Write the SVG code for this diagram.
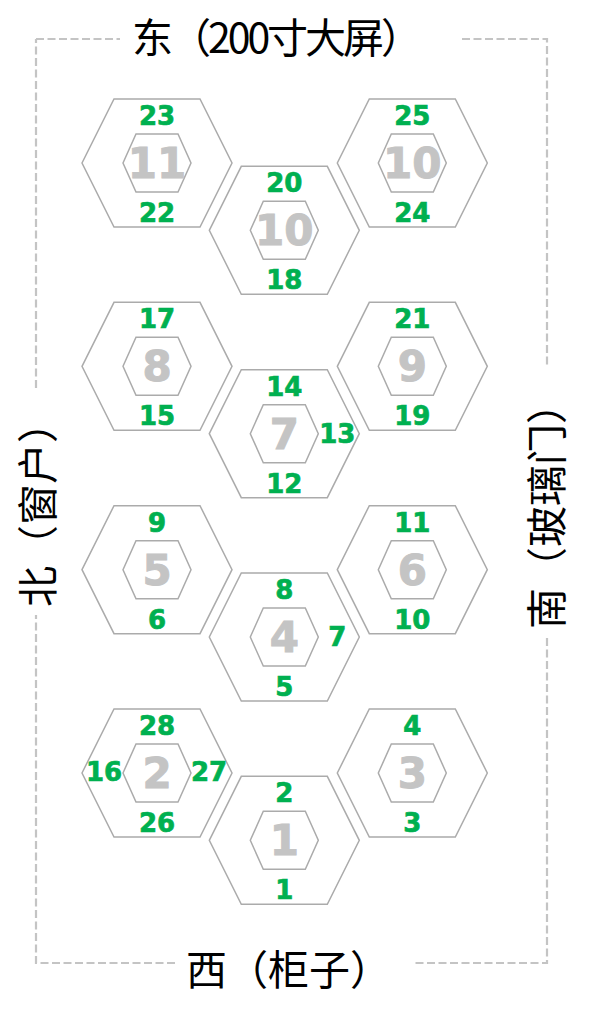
<svg xmlns="http://www.w3.org/2000/svg" xmlns:xlink="http://www.w3.org/1999/xlink" width="599" height="1024" viewBox="0 0 599 1024">
<style>
.frame{fill:none;stroke:#C4C4C4;stroke-width:2.2;stroke-dasharray:8 3.5}
.hex{fill:none;stroke:#ABABAB;stroke-width:1.5}
.big{font-family:"DejaVu Sans","Liberation Sans",sans-serif;font-weight:bold;font-size:42px;fill:#C4C4C4;stroke:#C4C4C4;stroke-width:1;text-anchor:middle}
.g{font-family:"DejaVu Sans","Liberation Sans",sans-serif;font-weight:bold;font-size:26px;fill:#00B050;stroke:#00B050;stroke-width:0.7;text-anchor:middle}
.lbl{font-family:"Noto Sans CJK SC","Noto Sans",sans-serif;font-size:41px;fill:#000}
</style>
<defs>
<polygon id="outer" class="hex" points="-75,0 -43,-64 43,-64 75,0 43,64 -43,64"/>
<polygon id="inner" class="hex" points="-34,0 -21,-29 21,-29 34,0 21,29 -21,29"/>
</defs>
<rect width="599" height="1024" fill="#fff"/>
<g id="frame">
<path class="frame" d="M36 39H120M462 39H547V365M547 638V963H412M175 963H36V615M36 388V39"/>
</g>
<g id="labels">
<text class="lbl" x="132" y="53" textLength="290" lengthAdjust="spacing">东（200寸大屏）</text>
<text class="lbl" x="186" y="985" textLength="205" lengthAdjust="spacing">西（柜子）</text>
<text class="lbl" transform="translate(53,607) rotate(-90)" x="0" y="0">北（窗户）</text>
<text class="lbl" transform="translate(562,629) rotate(-90)" x="0" y="0">南（玻璃门）</text>
</g>
<g id="hex11" transform="translate(157,163)"><use xlink:href="#outer"/><use xlink:href="#inner"/><text class="big" y="15">11</text><text class="g" y="-38">23</text><text class="g" y="59">22</text></g>
<g id="hex10a" transform="translate(284.3,230.3)"><use xlink:href="#outer"/><use xlink:href="#inner"/><text class="big" y="15">10</text><text class="g" y="-38">20</text><text class="g" y="59">18</text></g>
<g id="hex10b" transform="translate(412.3,163)"><use xlink:href="#outer"/><use xlink:href="#inner"/><text class="big" y="15">10</text><text class="g" y="-38">25</text><text class="g" y="59">24</text></g>
<g id="hex8" transform="translate(157,366.3)"><use xlink:href="#outer"/><use xlink:href="#inner"/><text class="big" y="15">8</text><text class="g" y="-38">17</text><text class="g" y="59">15</text></g>
<g id="hex7" transform="translate(284.3,433.7)"><use xlink:href="#outer"/><use xlink:href="#inner"/><text class="big" y="15">7</text><text class="g" y="-38">14</text><text class="g" y="59">12</text><text class="g" x="53" y="9">13</text></g>
<g id="hex9" transform="translate(412.3,366.3)"><use xlink:href="#outer"/><use xlink:href="#inner"/><text class="big" y="15">9</text><text class="g" y="-38">21</text><text class="g" y="59">19</text></g>
<g id="hex5" transform="translate(157,569.7)"><use xlink:href="#outer"/><use xlink:href="#inner"/><text class="big" y="15">5</text><text class="g" y="-38">9</text><text class="g" y="59">6</text></g>
<g id="hex4" transform="translate(284.3,637)"><use xlink:href="#outer"/><use xlink:href="#inner"/><text class="big" y="15">4</text><text class="g" y="-38">8</text><text class="g" y="59">5</text><text class="g" x="53" y="9">7</text></g>
<g id="hex6" transform="translate(412.3,569.7)"><use xlink:href="#outer"/><use xlink:href="#inner"/><text class="big" y="15">6</text><text class="g" y="-38">11</text><text class="g" y="59">10</text></g>
<g id="hex2" transform="translate(157,773)"><use xlink:href="#outer"/><use xlink:href="#inner"/><text class="big" y="15">2</text><text class="g" y="-38">28</text><text class="g" y="59">26</text><text class="g" x="-53" y="8">16</text><text class="g" x="52" y="8">27</text></g>
<g id="hex1" transform="translate(284.3,840.3)"><use xlink:href="#outer"/><use xlink:href="#inner"/><text class="big" y="15">1</text><text class="g" y="-38">2</text><text class="g" y="59">1</text></g>
<g id="hex3" transform="translate(412.3,773)"><use xlink:href="#outer"/><use xlink:href="#inner"/><text class="big" y="15">3</text><text class="g" y="-38">4</text><text class="g" y="59">3</text></g>
</svg>
